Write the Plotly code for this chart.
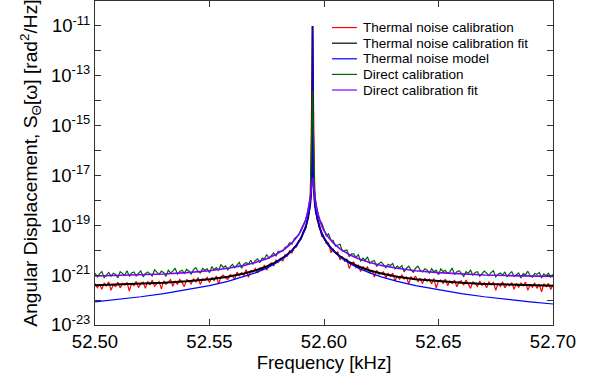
import numpy as np
import plotly.graph_objects as go

# ---------------- data (frequency in kHz, PSD in rad^2/Hz) ----------------
freq_data = [
    52.500, 52.501, 52.502, 52.503, 52.504, 52.505, 52.506, 52.507, 52.508, 52.509,
    52.510, 52.511, 52.512, 52.513, 52.514, 52.515, 52.516, 52.517, 52.518, 52.519,
    52.520, 52.521, 52.522, 52.523, 52.524, 52.525, 52.526, 52.527, 52.528, 52.529,
    52.530, 52.531, 52.532, 52.533, 52.534, 52.535, 52.536, 52.537, 52.538, 52.539,
    52.540, 52.541, 52.542, 52.543, 52.544, 52.545, 52.546, 52.547, 52.548, 52.549,
    52.550, 52.551, 52.552, 52.553, 52.554, 52.555, 52.556, 52.557, 52.558, 52.559,
    52.560, 52.561, 52.562, 52.563, 52.564, 52.565, 52.566, 52.567, 52.568, 52.569,
    52.570, 52.571, 52.572, 52.573, 52.574, 52.575, 52.576, 52.577, 52.578, 52.579,
    52.580, 52.581, 52.582, 52.583, 52.584, 52.585, 52.586, 52.587, 52.588, 52.589,
    52.590, 52.591, 52.592, 52.593, 52.594, 52.595,
    52.596, 52.597, 52.598, 52.599, 52.600, 52.601, 52.602, 52.603, 52.604, 52.605,
    52.606, 52.607, 52.608, 52.609, 52.610, 52.611, 52.612, 52.613, 52.614, 52.615,
    52.616, 52.617, 52.618, 52.619, 52.620, 52.621, 52.622, 52.623, 52.624, 52.625,
    52.626, 52.627, 52.628, 52.629, 52.630, 52.631, 52.632, 52.633, 52.634, 52.635,
    52.636, 52.637, 52.638, 52.639, 52.640, 52.641, 52.642, 52.643, 52.644, 52.645,
    52.646, 52.647, 52.648, 52.649, 52.650, 52.651, 52.652, 52.653, 52.654, 52.655,
    52.656, 52.657, 52.658, 52.659, 52.660, 52.661, 52.662, 52.663, 52.664, 52.665,
    52.666, 52.667, 52.668, 52.669, 52.670, 52.671, 52.672, 52.673, 52.674, 52.675,
    52.676, 52.677, 52.678, 52.679, 52.680, 52.681, 52.682, 52.683, 52.684, 52.685,
    52.686, 52.687, 52.688, 52.689, 52.690, 52.691, 52.692, 52.693, 52.694, 52.695,
    52.696, 52.697, 52.698, 52.699, 52.700,
]

# Thermal noise calibration (measured), log10 of PSD
thermal_cal_log = [
    -21.34, -21.50, -21.37, -21.57, -21.31, -21.43, -21.27, -21.61, -21.38, -21.46,
    -21.28, -21.51, -21.33, -21.39, -21.29, -21.64, -21.32, -21.42, -21.25, -21.50,
    -21.33, -21.28, -21.53, -21.25, -21.39, -21.20, -21.44, -21.33, -21.26, -21.55,
    -21.23, -21.37, -21.27, -21.18, -21.45, -21.23, -21.37, -21.17, -21.29, -21.46,
    -21.18, -21.23, -21.35, -21.14, -21.28, -21.09, -21.38, -21.15, -21.20, -21.09,
    -21.30, -21.09, -21.22, -21.03, -21.35, -21.07, -21.00, -21.13, -21.17, -20.98,
    -21.01, -21.17, -20.88, -21.02, -20.90, -21.02, -20.78, -21.09, -20.82, -20.87,
    -20.73, -20.91, -20.71, -20.79, -20.59, -20.80, -20.59, -20.51, -20.63, -20.39,
    -20.48, -20.33, -20.44, -20.18, -20.24, -20.02, -20.11, -19.88, -19.87, -19.62,
    -19.55, -19.26, -19.15, -18.69, -18.17, -11.30,
    -18.07, -18.80, -18.97, -19.44, -19.48, -19.73, -19.71, -20.10, -19.94, -20.12,
    -20.07, -20.39, -20.27, -20.44, -20.35, -20.73, -20.51, -20.47, -20.70, -20.60,
    -20.85, -20.65, -20.78, -20.67, -20.92, -20.80, -21.08, -20.81, -20.96, -20.92,
    -20.87, -21.11, -20.93, -21.05, -20.92, -21.23, -21.03, -21.16, -20.99, -21.16,
    -21.08, -21.35, -21.07, -21.16, -21.04, -21.27, -21.13, -21.34, -21.12, -21.24,
    -21.16, -21.35, -21.13, -21.52, -21.23, -21.19, -21.33, -21.16, -21.42, -21.24,
    -21.34, -21.20, -21.47, -21.27, -21.23, -21.40, -21.20, -21.36, -21.53, -21.27,
    -21.33, -21.45, -21.24, -21.41, -21.30, -21.51, -21.27, -21.38, -21.29, -21.61,
    -21.33, -21.45, -21.27, -21.51, -21.35, -21.43, -21.30, -21.57, -21.33, -21.49,
    -21.32, -21.43, -21.28, -21.61, -21.38, -21.48, -21.31, -21.53, -21.36, -21.67,
    -21.34, -21.46, -21.33, -21.57, -21.39,
]

# Direct calibration (measured), log10 of PSD
direct_cal_log = [
    -20.92, -21.07, -20.95, -20.86, -21.10, -21.00, -20.89, -21.04, -20.92, -20.97,
    -21.11, -20.86, -20.95, -21.00, -20.82, -21.05, -20.91, -20.87, -21.03, -20.92,
    -20.83, -21.07, -20.94, -20.87, -20.96, -21.03, -20.79, -20.89, -20.97, -20.84,
    -20.90, -21.05, -20.80, -20.91, -20.84, -20.72, -20.96, -20.85, -20.80, -20.93,
    -20.77, -20.83, -20.96, -20.78, -20.70, -20.86, -20.91, -20.73, -20.80, -20.75,
    -20.90, -20.66, -20.78, -20.70, -20.81, -20.58, -20.69, -20.63, -20.79, -20.67,
    -20.57, -20.70, -20.59, -20.49, -20.72, -20.56, -20.49, -20.56, -20.40, -20.56,
    -20.42, -20.35, -20.50, -20.32, -20.34, -20.17, -20.32, -20.20, -20.11, -20.24,
    -20.04, -20.04, -20.04, -19.88, -19.85, -19.69, -19.75, -19.54, -19.45, -19.38,
    -19.16, -18.99, -18.80, -18.39, -17.86, -13.60,
    -17.85, -18.34, -18.81, -18.90, -19.15, -19.43, -19.34, -19.59, -19.60, -19.84,
    -19.79, -19.76, -20.03, -20.02, -19.99, -20.26, -20.15, -20.15, -20.29, -20.18,
    -20.43, -20.32, -20.40, -20.27, -20.52, -20.44, -20.42, -20.65, -20.53, -20.47,
    -20.61, -20.70, -20.56, -20.61, -20.53, -20.75, -20.64, -20.71, -20.62, -20.87,
    -20.72, -20.64, -20.79, -20.88, -20.72, -20.64, -20.80, -20.87, -20.74, -20.79,
    -20.92, -20.74, -20.86, -20.80, -20.98, -20.75, -20.85, -20.81, -20.93, -20.86,
    -20.72, -20.98, -20.86, -20.82, -20.93, -21.05, -20.86, -20.92, -20.80, -21.00,
    -20.89, -20.86, -21.04, -20.95, -20.84, -20.92, -21.02, -20.89, -20.82, -21.07,
    -20.96, -20.91, -21.00, -20.87, -21.07, -20.94, -20.86, -21.05, -20.97, -20.91,
    -21.11, -20.94, -20.99, -20.84, -21.02, -21.08, -20.93, -20.97, -20.89, -21.11,
    -20.95, -21.02, -20.92, -21.07, -20.97,
]

# Smooth curves (fits and model)
freq_fit = [
    52.500, 52.510, 52.520, 52.530, 52.540, 52.550, 52.558, 52.565, 52.570, 52.575,
    52.579, 52.583, 52.586, 52.588, 52.590, 52.591, 52.592, 52.593, 52.5935, 52.594,
    52.5943, 52.5945, 52.5947, 52.5948, 52.5949, 52.595,
    52.5951, 52.5952, 52.5953, 52.5955, 52.5957, 52.596, 52.5965, 52.597, 52.598,
    52.599, 52.600, 52.602, 52.604, 52.607, 52.611, 52.615, 52.620, 52.625, 52.632,
    52.640, 52.650, 52.660, 52.670, 52.680, 52.690, 52.700,
]

thermal_fit = [
    3.95e-22, 4.16e-22, 4.46e-22, 4.92e-22, 5.64e-22, 6.89e-22, 8.70e-22, 1.16e-21,
    1.54e-21, 2.23e-21, 3.31e-21, 5.64e-21, 9.78e-21, 1.60e-20, 3.10e-20, 4.82e-20,
    8.55e-20, 1.92e-19, 3.41e-19, 7.67e-19, 1.57e-18, 3.07e-18, 8.52e-18, 1.92e-17,
    7.67e-17, 1.0e-11,
    7.67e-17, 1.92e-17, 8.52e-18, 3.07e-18, 1.57e-18, 7.67e-19, 3.41e-19, 1.92e-19,
    8.55e-20, 4.82e-20, 3.10e-20, 1.60e-20, 9.78e-21, 5.64e-21, 3.31e-21, 2.23e-21,
    1.54e-21, 1.16e-21, 8.70e-22, 6.89e-22, 5.64e-22, 4.92e-22, 4.46e-22, 4.16e-22,
    3.95e-22, 3.80e-22,
]

thermal_model = [
    8.50e-23, 1.06e-22, 1.36e-22, 1.82e-22, 2.54e-22, 3.79e-22, 5.60e-22, 8.52e-22,
    1.23e-21, 1.92e-21, 3.00e-21, 5.33e-21, 9.47e-21, 1.57e-20, 3.07e-20, 4.79e-20,
    8.52e-20, 1.92e-19, 3.41e-19, 7.67e-19, 1.57e-18, 3.07e-18, 8.52e-18, 1.92e-17,
    7.67e-17, 1.0e-11,
    7.67e-17, 1.92e-17, 8.52e-18, 3.07e-18, 1.57e-18, 7.67e-19, 3.41e-19, 1.92e-19,
    8.52e-20, 4.79e-20, 3.07e-20, 1.57e-20, 9.47e-21, 5.33e-21, 3.00e-21, 1.92e-21,
    1.23e-21, 8.52e-22, 5.60e-22, 3.79e-22, 2.54e-22, 1.82e-22, 1.36e-22, 1.06e-22,
    8.50e-23, 6.96e-23,
]

direct_fit = [
    9.21e-22, 9.63e-22, 1.02e-21, 1.11e-21, 1.26e-21, 1.51e-21, 1.88e-21, 2.46e-21,
    3.21e-21, 4.60e-21, 6.76e-21, 1.14e-20, 1.97e-20, 3.21e-20, 6.11e-20, 9.51e-20,
    1.68e-19, 3.68e-19, 6.31e-19, 1.29e-18, 2.26e-18, 3.50e-18, 5.50e-18, 6.70e-18,
    7.70e-18, 8.11e-18,
    7.70e-18, 6.70e-18, 5.50e-18, 3.50e-18, 2.26e-18, 1.29e-18, 6.31e-19, 3.68e-19,
    1.68e-19, 9.51e-20, 6.11e-20, 3.21e-20, 1.97e-20, 1.14e-20, 6.76e-21, 4.60e-21,
    3.21e-21, 2.46e-21, 1.88e-21, 1.51e-21, 1.26e-21, 1.11e-21, 1.02e-21, 9.63e-22,
    9.21e-22, 8.90e-22,
]

series_names = ["Thermal noise calibration", "Thermal noise calibration fit",
                "Thermal noise model", "Direct calibration", "Direct calibration fit"]
series_colors = ["#ff0000", "#000000", "#0000ff", "#006400", "#8000ff"]

x_ticks = [52.50, 52.55, 52.60, 52.65, 52.70]
y_major_exp = [-23, -21, -19, -17, -15, -13, -11]
y_minor_exp = [-22, -20, -18, -16, -14, -12, -10]

# ---------------- figure ----------------
FONT = "Liberation Sans, Arial, sans-serif"
AX = "#333333"
fig = go.Figure()

fig.add_trace(go.Scatter(x=freq_data, y=10 ** np.array(thermal_cal_log), mode="lines",
                         line=dict(color=series_colors[0], width=1.2), name=series_names[0]))
fig.add_trace(go.Scatter(x=freq_fit, y=thermal_fit, mode="lines",
                         line=dict(color=series_colors[1], width=2), name=series_names[1]))
fig.add_trace(go.Scatter(x=freq_fit, y=thermal_model, mode="lines",
                         line=dict(color=series_colors[2], width=1.2), name=series_names[2]))
fig.add_trace(go.Scatter(x=freq_data, y=10 ** np.array(direct_cal_log), mode="lines",
                         line=dict(color=series_colors[3], width=1.2), name=series_names[3]))
fig.add_trace(go.Scatter(x=freq_fit, y=direct_fit, mode="lines",
                         line=dict(color=series_colors[4], width=1.6), name=series_names[4]))

# compact legend (line sample + label) drawn in paper coordinates
shapes, annotations = [], []
leg_x0, leg_x1, leg_tx = 0.5175, 0.572, 0.581
leg_y0, leg_dy = 0.918, 0.0482
for i, (nm, col) in enumerate(zip(series_names, series_colors)):
    yy = leg_y0 - i * leg_dy
    shapes.append(dict(type="line", xref="paper", yref="paper", x0=leg_x0, x1=leg_x1,
                       y0=yy, y1=yy, line=dict(color=col, width=1.2)))
    annotations.append(dict(xref="paper", yref="paper", x=leg_tx, y=yy, text=nm,
                            showarrow=False, xanchor="left", yanchor="middle",
                            font=dict(family=FONT, size=13.5, color="#000000")))

fig.update_layout(
    width=597, height=381,
    margin=dict(l=95, r=44, t=1, b=56),
    paper_bgcolor="white", plot_bgcolor="white",
    font=dict(family=FONT, size=18, color="#000000"),
    showlegend=False,
    shapes=shapes, annotations=annotations,
    xaxis=dict(
        range=[52.50, 52.70], tickvals=x_ticks, tickformat=".2f",
        ticks="inside", ticklen=6, tickcolor=AX,
        showline=True, linecolor=AX, linewidth=1, mirror="ticks",
        showgrid=False, zeroline=False,
        tickfont=dict(family=FONT, size=18.5),
        title=dict(text="Frequency [kHz]", font=dict(family=FONT, size=18.5), standoff=2),
    ),
    yaxis=dict(
        type="log", range=[-23, -10],
        tickvals=[10.0 ** e for e in y_major_exp],
        ticktext=["10<sup>%d</sup>" % e for e in y_major_exp],
        ticks="inside", ticklen=6, tickcolor=AX,
        minor=dict(tickvals=[10.0 ** e for e in y_minor_exp], ticks="inside",
                   ticklen=6, tickcolor=AX, showgrid=False),
        showline=True, linecolor=AX, linewidth=1, mirror="ticks",
        showgrid=False, zeroline=False,
        tickfont=dict(family=FONT, size=18.5),
        title=dict(text="Angular Displacement, S<sub>Θ</sub>[ω] [rad<sup>2</sup>/Hz]",
                   font=dict(family=FONT, size=19.2), standoff=8),
    ),
)

fig.write_html("out.html")
